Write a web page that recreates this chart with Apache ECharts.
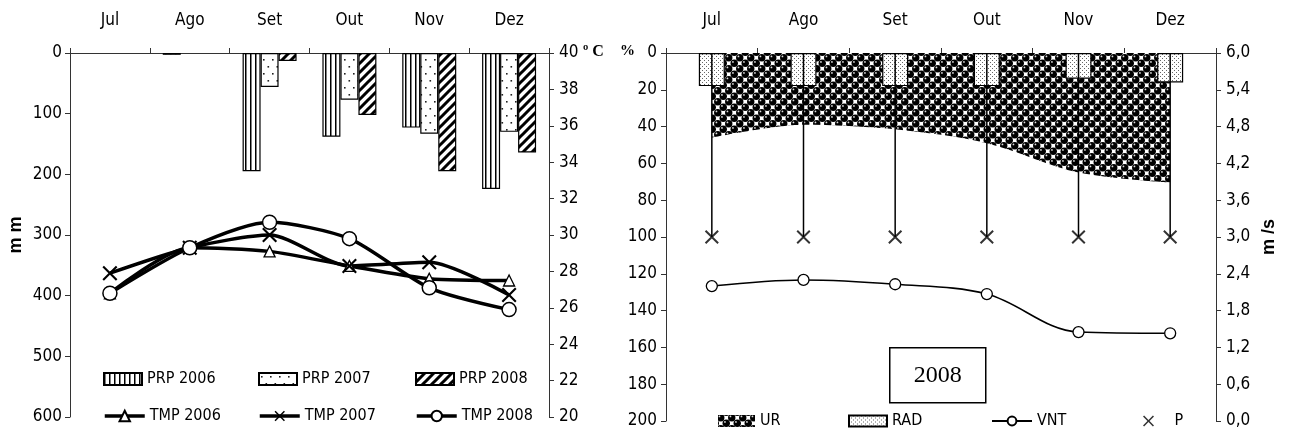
<!DOCTYPE html>
<html>
<head>
<meta charset="utf-8">
<script src="https://cdn.jsdelivr.net/npm/echarts@6.0.0/dist/echarts.min.js"></script>
<style>
  html, body { margin: 0; padding: 0; background: #fff; }
  #chart { width: 1298px; height: 434px; }
</style>
</head>
<body>
<div id="chart"></div>
<script>
// Meses (eixo de categorias comum aos dois painéis)
const meses = ['Jul', 'Ago', 'Set', 'Out', 'Nov', 'Dez'];

// Painel esquerdo: precipitação (mm) e temperatura (°C)
const prp2006 = [null, 3, 195, 138, 123, 224];
const prp2007 = [null, null, 56, 77, 133, 130];
const prp2008 = [null, null, 13, 102, 195, 164];
const tmp2006 = [26.8, 29.3, 29.1, 28.3, 27.6, 27.5];
const tmp2007 = [27.9, 29.3, 30.0, 28.3, 28.5, 26.7];
const tmp2008 = [26.8, 29.3, 30.7, 29.8, 27.1, 25.9];

// Painel direito (2008): umidade relativa, radiação, vento e P
const ur = [46, 39, 41.5, 49, 65, 70.5];
const rad = [18, 18, 18, 18, 14, 16];
const vnt = [2.20, 2.30, 2.23, 2.07, 1.45, 1.43];
const p = [100, 100, 100, 100, 100, 100];

const FONT = "'DejaVu Sans Condensed', 'Liberation Sans Narrow', 'Liberation Sans', sans-serif";
const SERIF = "'Liberation Serif', 'Times New Roman', serif";

// Texturas de preenchimento
function tile(w, h, draw) {
  const c = document.createElement('canvas');
  c.width = w; c.height = h;
  const g = c.getContext('2d');
  g.fillStyle = '#fff';
  g.fillRect(0, 0, w, h);
  draw(g, w, h);
  return { image: c, repeat: 'repeat' };
}
const stripes = tile(5, 6, g => { g.fillStyle = '#000'; g.fillRect(0, 0, 1.5, 6); });
const sparseDots = tile(9, 14, g => {
  g.fillStyle = '#222';
  g.fillRect(2, 3, 1.6, 1.6);
  g.fillRect(6.5, 10, 1.6, 1.6);
});
const hatch = tile(9, 9, g => {
  g.strokeStyle = '#000'; g.lineWidth = 3;
  g.beginPath();
  g.moveTo(-1, 10); g.lineTo(10, -1);
  g.moveTo(-2, 2); g.lineTo(2, -2);
  g.moveTo(7, 11); g.lineTo(11, 7);
  g.stroke();
});
const fineDots = tile(4, 4, g => {
  g.fillStyle = '#666';
  g.fillRect(0, 0, 1, 1);
  g.fillRect(2, 2, 1, 1);
});
const balls = tile(11, 11, g => {
  const ball = (x, y) => {
    g.fillStyle = '#000';
    g.beginPath(); g.arc(x, y, 3.7, 0, Math.PI * 2); g.fill();
    g.fillStyle = '#ddd';
    g.beginPath(); g.arc(x - 1.3, y - 1.3, 0.9, 0, Math.PI * 2); g.fill();
  };
  ball(2.75, 2.75); ball(8.25, 8.25);
  ball(-2.75, 8.25); ball(13.75, 2.75);
  ball(8.25, -2.75); ball(2.75, 13.75);
  ball(-2.75, -2.75); ball(13.75, 13.75);
});

const X_PATH = 'path://M0,1L1,0L5,4L9,0L10,1L6,5L10,9L9,10L5,6L1,10L0,9L4,5Z';

const axisLine = { show: true, lineStyle: { color: '#333', width: 1 } };
const axisTick = { show: true, length: 5, lineStyle: { color: '#333', width: 1 } };
const lblStyle = { color: '#000', fontFamily: FONT, fontSize: 17 };

const chart = echarts.init(document.getElementById('chart'), null, { renderer: 'canvas' });

function legendAt(item, left, top, w, h, extra) {
  return Object.assign({
    data: [item], left: left, top: top, padding: 0,
    itemWidth: w, itemHeight: h, itemGap: 5,
    textStyle: { color: '#000', fontFamily: FONT, fontSize: 16 },
    selectedMode: false
  }, extra || {});
}
const thickLegend = { lineStyle: { width: 3.5 } };

const barBase = {
  type: 'bar', xAxisIndex: 0, yAxisIndex: 0, barWidth: 18, barGap: '0%',
  itemStyle: { borderColor: '#000', borderWidth: 1.2 }
};
const tmpBase = {
  type: 'line', xAxisIndex: 0, yAxisIndex: 1, smooth: 0.25,
  lineStyle: { color: '#000', width: 3.5 }, z: 5,
  symbolSize: 13
};

chart.setOption({
  animation: false,
  backgroundColor: '#fff',
  grid: [
    { left: 70, top: 53, width: 479, height: 364 },
    { left: 666, top: 53, width: 550, height: 368 }
  ],
  xAxis: [
    {
      type: 'category', gridIndex: 0, position: 'top', data: meses,
      axisLine: axisLine, axisTick: axisTick,
      axisLabel: Object.assign({ margin: 24 }, lblStyle)
    },
    {
      type: 'category', gridIndex: 1, position: 'top', data: meses,
      axisLine: axisLine, axisTick: axisTick,
      axisLabel: Object.assign({ margin: 24 }, lblStyle)
    }
  ],
  yAxis: [
    {
      type: 'value', gridIndex: 0, inverse: true, min: 0, max: 600, interval: 100,
      axisLine: axisLine, axisTick: axisTick, splitLine: { show: false },
      axisLabel: Object.assign({ margin: 8 }, lblStyle),
      name: 'm m', nameLocation: 'middle', nameRotate: 90, nameGap: 45,
      nameTextStyle: { color: '#000', fontFamily: 'Liberation Sans', fontWeight: 'bold', fontSize: 18 }
    },
    {
      type: 'value', gridIndex: 0, position: 'right', min: 20, max: 40, interval: 2,
      axisLine: axisLine, axisTick: axisTick, splitLine: { show: false },
      axisLabel: Object.assign({ margin: 10 }, lblStyle)
    },
    {
      type: 'value', gridIndex: 1, inverse: true, min: 0, max: 200, interval: 20,
      axisLine: axisLine, axisTick: axisTick, splitLine: { show: false },
      axisLabel: Object.assign({ margin: 9 }, lblStyle)
    },
    {
      type: 'value', gridIndex: 1, position: 'right', min: 0, max: 6, interval: 0.6,
      axisLine: axisLine, axisTick: axisTick, splitLine: { show: false },
      axisLabel: Object.assign({
        margin: 10,
        formatter: v => v.toFixed(1).replace('.', ',')
      }, lblStyle),
      name: 'm /s', nameLocation: 'middle', nameRotate: 90, nameGap: 44,
      nameTextStyle: { color: '#000', fontFamily: 'Liberation Sans', fontWeight: 'bold', fontSize: 18 }
    }
  ],
  legend: [
    legendAt({ name: 'PRP 2006', icon: 'rect' }, 103, 371, 38, 12),
    legendAt({ name: 'PRP 2007', icon: 'rect' }, 258, 371, 38, 12),
    legendAt({ name: 'PRP 2008', icon: 'rect' }, 415, 371, 38, 12),
    legendAt('TMP 2006', 103, 408, 40, 13, thickLegend),
    legendAt('TMP 2007', 258, 408, 40, 13, thickLegend),
    legendAt('TMP 2008', 415, 408, 40, 13, thickLegend),
    legendAt({ name: 'UR', icon: 'rect', itemStyle: { color: balls, borderWidth: 0 } }, 718, 413, 37, 12),
    legendAt({ name: 'RAD', icon: 'rect' }, 848, 413, 38, 11),
    legendAt('VNT', 991, 413, 40, 11),
    legendAt('P', 1143, 413, 14, 11, {
      textStyle: { color: '#000', fontFamily: FONT, fontSize: 16, padding: [0, 0, 0, 14] }
    })
  ],
  graphic: [
    {
      type: 'text', left: 583, top: 44,
      style: { text: 'º C', fill: '#000', font: 'bold 16px ' + SERIF }
    },
    {
      type: 'text', left: 620, top: 44,
      style: { text: '%', fill: '#000', font: 'bold 15px ' + SERIF }
    },
    {
      type: 'group', left: 889, top: 347,
      children: [
        { type: 'rect', shape: { x: 0, y: 0, width: 96, height: 55 },
          style: { fill: '#fff', stroke: '#000', lineWidth: 1.5 } },
        { type: 'text', x: 48, y: 28,
          style: { text: '2008', fill: '#000', font: '24px ' + SERIF, align: 'center', verticalAlign: 'middle' } }
      ]
    }
  ],
  series: [
    Object.assign({}, barBase, { name: 'PRP 2006', data: prp2006,
      itemStyle: Object.assign({}, barBase.itemStyle, { color: stripes }) }),
    Object.assign({}, barBase, { name: 'PRP 2007', data: prp2007,
      itemStyle: Object.assign({}, barBase.itemStyle, { color: sparseDots }) }),
    Object.assign({}, barBase, { name: 'PRP 2008', data: prp2008,
      itemStyle: Object.assign({}, barBase.itemStyle, { color: hatch }) }),
    Object.assign({}, tmpBase, { name: 'TMP 2006', data: tmp2006, symbol: 'triangle', symbolSize: 11,
      itemStyle: { color: '#fff', borderColor: '#000', borderWidth: 1.3 } }),
    Object.assign({}, tmpBase, { name: 'TMP 2007', data: tmp2007, symbol: X_PATH, symbolSize: 15,
      itemStyle: { color: '#000' } }),
    Object.assign({}, tmpBase, { name: 'TMP 2008', data: tmp2008, symbol: 'circle', symbolSize: 14,
      itemStyle: { color: '#fff', borderColor: '#000', borderWidth: 1.5 } }),

    {
      name: 'UR', type: 'line', xAxisIndex: 1, yAxisIndex: 2, data: ur,
      smooth: 0.3, showSymbol: false,
      lineStyle: { width: 0, color: '#000' },
      itemStyle: { color: balls },
      areaStyle: { color: balls, opacity: 1 }, z: 1
    },
    {
      name: 'RAD', type: 'bar', xAxisIndex: 1, yAxisIndex: 2, data: rad, barWidth: 26,
      itemStyle: { color: fineDots, borderColor: '#000', borderWidth: 1.2 }, z: 2
    },
    {
      name: 'P-haste', type: 'custom', xAxisIndex: 1, yAxisIndex: 2,
      data: p.map((v, i) => [i, v]), encode: { x: 0, y: 1 }, z: 3,
      renderItem: (params, api) => {
        const a = api.coord([api.value(0), 0]);
        const b = api.coord([api.value(0), api.value(1)]);
        return { type: 'line', shape: { x1: a[0], y1: a[1], x2: b[0], y2: b[1] },
          style: { stroke: '#000', lineWidth: 1.5 } };
      }
    },
    {
      name: 'P', type: 'scatter', xAxisIndex: 1, yAxisIndex: 2, data: p,
      symbol: X_PATH, symbolSize: 14, itemStyle: { color: '#000' }, z: 4
    },
    {
      name: 'VNT', type: 'line', xAxisIndex: 1, yAxisIndex: 3, data: vnt,
      smooth: 0.35, symbol: 'circle', symbolSize: 11,
      lineStyle: { color: '#000', width: 1.6 },
      itemStyle: { color: '#fff', borderColor: '#000', borderWidth: 1.3 }, z: 5
    }
  ]
});
</script>
</body>
</html>
